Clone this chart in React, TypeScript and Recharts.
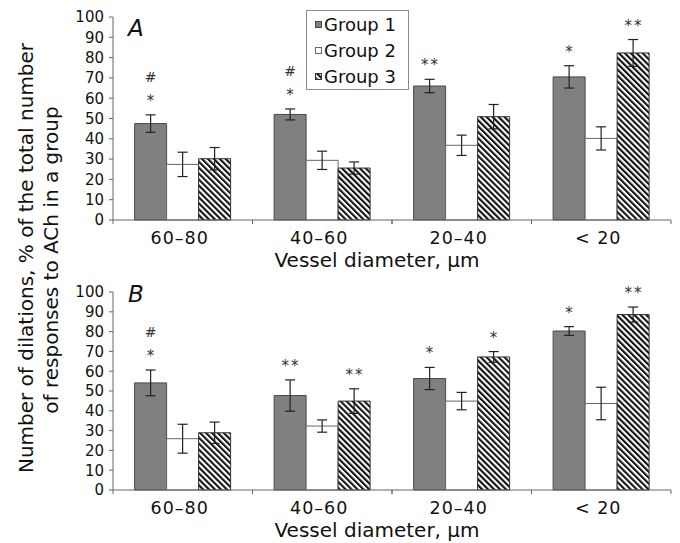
import { BarChart, Bar, XAxis, YAxis, ErrorBar, LabelList, Legend } from "recharts"

const categories = ["60–80", "40–60", "20–40", "< 20"]
const yTicks = [0, 10, 20, 30, 40, 50, 60, 70, 80, 90, 100]

// panel A
const g1A = [47.5, 52, 66, 70.5]
const e1A = [4.3, 2.7, 3.3, 5.5]
const g2A = [27.4, 29.4, 36.8, 40.2]
const e2A = [6, 4.5, 5, 5.7]
const g3A = [30.2, 25.6, 50.9, 82.3]
const e3A = [5.5, 3, 6, 6.6]
const star1A = ["*", "*", "**", "*"]
const hash1A = ["#", "#", "", ""]
const star3A = ["", "", "", "**"]

// panel B
const g1B = [54.1, 47.7, 56.3, 80.3]
const e1B = [6.5, 7.9, 5.6, 2.2]
const g2B = [25.9, 32.3, 44.9, 43.7]
const e2B = [7.3, 3.1, 4.4, 8.2]
const g3B = [28.9, 44.9, 67.2, 88.6]
const e3B = [5.4, 6.2, 2.7, 3.8]
const star1B = ["*", "**", "*", "*"]
const hash1B = ["#", "", "", ""]
const star3B = ["", "**", "*", "**"]

const seriesNames = ["Group 1", "Group 2", "Group 3"]

const FONT = "'DejaVu Sans', sans-serif"
const W = 680
const AXIS_W = 113
const RIGHT = 9
const BAND = (W - AXIS_W - RIGHT) / categories.length
const TICK = 6

const fills = ["#808080", "#ffffff", "url(#hatch)"]
const strokes = ["#4a4a4a", "#666666", "#333333"]

type Row = Record<string, any>

function buildRows(g1: number[], e1: number[], g2: number[], e2: number[], g3: number[], e3: number[],
  s1: string[], h1: string[], s3: string[]): Row[] {
  return categories.map((cat, i) => ({
    cat, g1: g1[i], e1: e1[i], g2: g2[i], e2: e2[i], g3: g3[i], e3: e3[i],
    s1: s1[i], h1: h1[i], s3: s3[i],
  }))
}

const rowsA = buildRows(g1A, e1A, g2A, e2A, g3A, e3A, star1A, hash1A, star3A)
const rowsB = buildRows(g1B, e1B, g2B, e2B, g3B, e3B, star1B, hash1B, star3B)

function noteRenderer(rows: Row[], valKey: string, errKey: string, starKey: string, hashKey?: string) {
  return (p: any) => {
    const r = rows[p.index]
    if (!r) return null
    const star = r[starKey]
    const hash = hashKey ? r[hashKey] : ""
    if (!star && !hash) return null
    const k = Number(p.height) / r[valKey]
    const top = Number(p.y) - r[errKey] * k
    const cx = Number(p.x) + Number(p.width) / 2
    return (
      <g>
        {star ? (
          <text x={cx + (star.length > 1 ? 1 : 0)} y={top - 9} textAnchor="middle" fontFamily={FONT} fontSize={15}
            letterSpacing={star.length > 1 ? 2 : 0} fill="#333">{star}</text>
        ) : null}
        {hash ? (
          <text x={cx} y={top - 33} textAnchor="middle" fontFamily={FONT} fontSize={14} fill="#333">{hash}</text>
        ) : null}
      </g>
    )
  }
}

const XTick = (props: any) => {
  const { x, y, payload } = props
  const axisY = y - TICK
  return (
    <g>
      <line x1={x - BAND / 2} x2={x - BAND / 2} y1={axisY} y2={axisY + 4} stroke="#666" />
      <line x1={x + BAND / 2} x2={x + BAND / 2} y1={axisY} y2={axisY + 4} stroke="#666" />
      <text x={x - 3} y={axisY + 24} textAnchor="middle" fontFamily={FONT} fontSize={17.5} letterSpacing={1} fill="#111">
        {payload.value}
      </text>
    </g>
  )
}

const XTitle = (props: any) => {
  const vb = props.viewBox
  return (
    <text x={vb.x + vb.width / 2 - 15} y={vb.y + 47} textAnchor="middle" fontFamily={FONT} fontSize={20} fill="#111">
      Vessel diameter, μm
    </text>
  )
}

const LegendBox = () => (
  <div style={{
    border: "1px solid #8a8a8a", background: "#fff", width: 103, height: 80, boxSizing: "border-box",
    paddingLeft: 8, fontFamily: FONT, fontSize: 18, color: "#111",
  }}>
    {seriesNames.map((name, i) => (
      <div key={name} style={{ display: "flex", alignItems: "center", height: 26, whiteSpace: "nowrap" }}>
        <svg width={7} height={7} style={{ display: "block" }}>
          <rect x={0.5} y={0.5} width={6} height={6} fill={fills[i]} stroke={strokes[i]} />
        </svg>
        <span style={{ marginLeft: 2 }}>{name}</span>
      </div>
    ))}
  </div>
)

function Panel({ rows, top, height, marginTop, axisHeight, legend }: {
  rows: Row[], top: number, height: number, marginTop: number, axisHeight: number, legend?: boolean
}) {
  return (
    <div style={{ position: "absolute", left: 0, top }}>
      <BarChart width={W} height={height} data={rows} margin={{ top: marginTop, right: RIGHT, left: 0, bottom: 0 }}
        barCategoryGap="15.5%" barGap={0}>
        <XAxis dataKey="cat" interval={0} height={axisHeight} tickLine={false} tickSize={TICK} tickMargin={0}
          axisLine={{ stroke: "#666" }} tick={XTick} label={<XTitle />} />
        <YAxis domain={[0, 100]} ticks={yTicks} width={AXIS_W} interval={0} tickSize={4} tickMargin={5}
          axisLine={{ stroke: "#666" }} tickLine={{ stroke: "#666" }}
          tick={{ fontFamily: FONT, fontSize: 15, fill: "#111" }} />
        {legend ? (
          <Legend layout="horizontal" verticalAlign="middle" align="center" content={<LegendBox />}
            wrapperStyle={{ position: "absolute", left: 306, top: 10, width: "auto" }} />
        ) : null}
        <Bar dataKey="g1" name="Group 1" fill={fills[0]} stroke={strokes[0]} isAnimationActive={false}>
          <ErrorBar dataKey="e1" width={5} stroke="#222" strokeWidth={1.2} direction="y" isAnimationActive={false} />
          <LabelList dataKey="s1" content={noteRenderer(rows, "g1", "e1", "s1", "h1")} />
        </Bar>
        <Bar dataKey="g2" name="Group 2" fill={fills[1]} stroke={strokes[1]} isAnimationActive={false}>
          <ErrorBar dataKey="e2" width={5} stroke="#222" strokeWidth={1.2} direction="y" isAnimationActive={false} />
        </Bar>
        <Bar dataKey="g3" name="Group 3" fill={fills[2]} stroke={strokes[2]} isAnimationActive={false}>
          <ErrorBar dataKey="e3" width={5} stroke="#222" strokeWidth={1.2} direction="y" isAnimationActive={false} />
          <LabelList dataKey="s3" content={noteRenderer(rows, "g3", "e3", "s3")} />
        </Bar>
      </BarChart>
    </div>
  )
}

export default function App() {
  return (
    <div style={{ position: "absolute", left: 0, top: 0, width: W, height: 543, overflow: "hidden", background: "#fff" }}>
      <svg width={0} height={0} style={{ position: "absolute" }}>
        <defs>
          <pattern id="hatch" patternUnits="userSpaceOnUse" width={4.2} height={4.2} patternTransform="rotate(-45)">
            <rect width={4.2} height={4.2} fill="#fff" />
            <line x1={1.05} y1={0} x2={1.05} y2={4.2} stroke="#111" strokeWidth={2.1} />
          </pattern>
        </defs>
      </svg>
      <Panel rows={rowsA} top={0} height={275} marginTop={17} axisHeight={55} legend />
      <Panel rows={rowsB} top={270} height={273} marginTop={22} axisHeight={53} />
      <svg width={W} height={543} style={{ position: "absolute", left: 0, top: 0, pointerEvents: "none" }}>
        <text x={128} y={36} fontFamily={FONT} fontStyle="italic" fontSize={23} fill="#111">A</text>
        <text x={128} y={302} fontFamily={FONT} fontStyle="italic" fontSize={23} fill="#111">B</text>
        <text transform="translate(33,258) rotate(-90)" textAnchor="middle" fontFamily={FONT} fontSize={20} fill="#111">
          Number of dilations, % of the total number
        </text>
        <text transform="translate(58,260) rotate(-90)" textAnchor="middle" fontFamily={FONT} fontSize={20} fill="#111">
          of responses to ACh in a group
        </text>
      </svg>
    </div>
  )
}
